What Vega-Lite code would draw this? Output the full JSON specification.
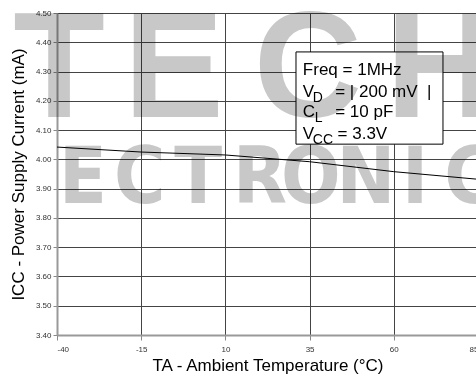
{
  "$schema": "https://vega.github.io/schema/vega-lite/v6.json",
  "width": 421,
  "height": 322,
  "autosize": {"type": "none"},
  "padding": {"left": 57, "top": 13, "right": 0, "bottom": 42},
  "background": "white",
  "config": {"view": {"stroke": null}, "font": "Liberation Sans"},
  "resolve": {"axis": {"x": "independent", "y": "independent"}},
  "datasets": {
    "curve": [
      {"temp": -40, "icc": 4.042},
      {"temp": -15, "icc": 4.025},
      {"temp": 10, "icc": 4.015},
      {"temp": 35, "icc": 3.992},
      {"temp": 60, "icc": 3.958},
      {"temp": 85, "icc": 3.932}
    ],
    "wmTop": [
      {"letter": "T", "temp": -39.4, "icc": 4.145},
      {"letter": "E", "temp": -5.3, "icc": 4.145},
      {"letter": "C", "temp": 34.5, "icc": 4.145},
      {"letter": "H", "temp": 73.7, "icc": 4.145}
    ],
    "wmBottom": [
      {"letter": "E", "temp": -32.3, "icc": 3.852},
      {"letter": "C", "temp": -15.4, "icc": 3.852},
      {"letter": "T", "temp": 1.9, "icc": 3.852},
      {"letter": "R", "temp": 20.3, "icc": 3.852},
      {"letter": "O", "temp": 35.4, "icc": 3.852},
      {"letter": "N", "temp": 51.7, "icc": 3.852},
      {"letter": "I", "temp": 66.3, "icc": 3.852},
      {"letter": "C", "temp": 82.6, "icc": 3.852}
    ],
    "one": [{"k": 1}]
  },
  "layer": [
    {
      "data": {"name": "curve"},
      "mark": {"type": "line", "color": "black", "strokeWidth": 1, "opacity": 0},
      "encoding": {
        "x": {
          "field": "temp",
          "type": "quantitative",
          "scale": {"domain": [-40, 85], "nice": false, "zero": false},
          "axis": {
            "values": [-40, -15, 10, 35, 60, 85],
            "labelExpr": "'' + datum.value",
            "title": "TA - Ambient Temperature (°C)",
            "titleFont": "Liberation Sans",
            "titleFontSize": 17,
            "titleFontWeight": "normal",
            "titleColor": "black",
            "titlePadding": 4,
            "labelFont": "Liberation Sans",
            "labelFontSize": 8,
            "labelColor": "#333",
            "labelPadding": 5,
            "tickSize": 5,
            "tickColor": "#888",
            "domainColor": "#999",
            "domainWidth": 2,
            "gridColor": "#444",
            "gridWidth": 1,
            "gridOpacity": 1
          }
        },
        "y": {
          "field": "icc",
          "type": "quantitative",
          "scale": {"domain": [3.4, 4.5], "nice": false, "zero": false},
          "axis": {
            "values": [3.4, 3.5, 3.6, 3.7, 3.8, 3.9, 4.0, 4.1, 4.2, 4.3, 4.4, 4.5],
            "format": ".2f",
            "labelOverlap": false,
            "title": "ICC - Power Supply Current (mA)",
            "titleFont": "Liberation Sans",
            "titleFontSize": 17,
            "titleFontWeight": "normal",
            "titleColor": "black",
            "titlePadding": 8,
            "labelFont": "Liberation Sans",
            "labelFontSize": 8,
            "labelColor": "#333",
            "labelPadding": 2,
            "tickSize": 4,
            "tickColor": "#888",
            "domainColor": "#999",
            "domainWidth": 2,
            "gridColor": "#444",
            "gridWidth": 1,
            "gridOpacity": 1
          }
        }
      }
    },
    {
      "data": {"name": "one"},
      "mark": {"type": "rect", "fill": "white", "stroke": "black", "strokeWidth": 1},
      "encoding": {
        "x": {"datum": 30.96, "type": "quantitative", "axis": null},
        "x2": {"datum": 74.6},
        "y": {"datum": 4.367, "type": "quantitative", "axis": null},
        "y2": {"datum": 4.052}
      }
    },
    {
      "data": {"name": "wmTop"},
      "mark": {"type": "text", "font": "Liberation Sans", "fontWeight": "bold", "fontSize": 150, "color": "#c8c8c8", "align": "center", "baseline": "alphabetic", "blend": "multiply"},
      "encoding": {
        "x": {"field": "temp", "type": "quantitative", "axis": null},
        "y": {"field": "icc", "type": "quantitative", "axis": null},
        "text": {"field": "letter"}
      }
    },
    {
      "data": {"name": "wmBottom"},
      "mark": {"type": "text", "font": "DejaVu Sans Condensed, Liberation Sans Narrow, Liberation Sans", "fontWeight": "bold", "fontSize": 78, "color": "#c8c8c8", "align": "center", "baseline": "alphabetic", "blend": "multiply"},
      "encoding": {
        "x": {"field": "temp", "type": "quantitative", "axis": null},
        "y": {"field": "icc", "type": "quantitative", "axis": null},
        "text": {"field": "letter"}
      }
    },
    {
      "data": {"name": "curve"},
      "mark": {"type": "line", "color": "black", "strokeWidth": 1},
      "encoding": {
        "x": {"field": "temp", "type": "quantitative", "axis": null},
        "y": {"field": "icc", "type": "quantitative", "axis": null}
      }
    },
    {
      "data": {"name": "one"},
      "mark": {"type": "text", "text": "Freq = 1MHz", "fontSize": 17, "align": "left", "baseline": "alphabetic", "color": "black"},
      "encoding": {"x": {"datum": 33.0, "type": "quantitative", "axis": null}, "y": {"datum": 4.288, "type": "quantitative", "axis": null}}
    },
    {
      "data": {"name": "one"},
      "mark": {"type": "text", "text": "V", "fontSize": 17, "align": "left", "baseline": "alphabetic", "color": "black"},
      "encoding": {"x": {"datum": 33.0, "type": "quantitative", "axis": null}, "y": {"datum": 4.213, "type": "quantitative", "axis": null}}
    },
    {
      "data": {"name": "one"},
      "mark": {"type": "text", "text": "D", "fontSize": 14, "align": "left", "baseline": "alphabetic", "dx": 10, "dy": 5, "color": "black"},
      "encoding": {"x": {"datum": 33.0, "type": "quantitative", "axis": null}, "y": {"datum": 4.213, "type": "quantitative", "axis": null}}
    },
    {
      "data": {"name": "one"},
      "mark": {"type": "text", "text": "= | 200 mV\u00a0\u00a0|", "fontSize": 17, "align": "left", "baseline": "alphabetic", "color": "black"},
      "encoding": {"x": {"datum": 42.6, "type": "quantitative", "axis": null}, "y": {"datum": 4.213, "type": "quantitative", "axis": null}}
    },
    {
      "data": {"name": "one"},
      "mark": {"type": "text", "text": "C", "fontSize": 17, "align": "left", "baseline": "alphabetic", "color": "black"},
      "encoding": {"x": {"datum": 33.0, "type": "quantitative", "axis": null}, "y": {"datum": 4.145, "type": "quantitative", "axis": null}}
    },
    {
      "data": {"name": "one"},
      "mark": {"type": "text", "text": "L", "fontSize": 14, "align": "left", "baseline": "alphabetic", "dx": 12, "dy": 5, "color": "black"},
      "encoding": {"x": {"datum": 33.0, "type": "quantitative", "axis": null}, "y": {"datum": 4.145, "type": "quantitative", "axis": null}}
    },
    {
      "data": {"name": "one"},
      "mark": {"type": "text", "text": "= 10 pF", "fontSize": 17, "align": "left", "baseline": "alphabetic", "color": "black"},
      "encoding": {"x": {"datum": 42.6, "type": "quantitative", "axis": null}, "y": {"datum": 4.145, "type": "quantitative", "axis": null}}
    },
    {
      "data": {"name": "one"},
      "mark": {"type": "text", "text": "V", "fontSize": 17, "align": "left", "baseline": "alphabetic", "color": "black"},
      "encoding": {"x": {"datum": 33.0, "type": "quantitative", "axis": null}, "y": {"datum": 4.070, "type": "quantitative", "axis": null}}
    },
    {
      "data": {"name": "one"},
      "mark": {"type": "text", "text": "CC", "fontSize": 14, "align": "left", "baseline": "alphabetic", "dx": 10, "dy": 5, "color": "black"},
      "encoding": {"x": {"datum": 33.0, "type": "quantitative", "axis": null}, "y": {"datum": 4.070, "type": "quantitative", "axis": null}}
    },
    {
      "data": {"name": "one"},
      "mark": {"type": "text", "text": "= 3.3V", "fontSize": 17, "align": "left", "baseline": "alphabetic", "color": "black"},
      "encoding": {"x": {"datum": 43.3, "type": "quantitative", "axis": null}, "y": {"datum": 4.070, "type": "quantitative", "axis": null}}
    }
  ]
}
